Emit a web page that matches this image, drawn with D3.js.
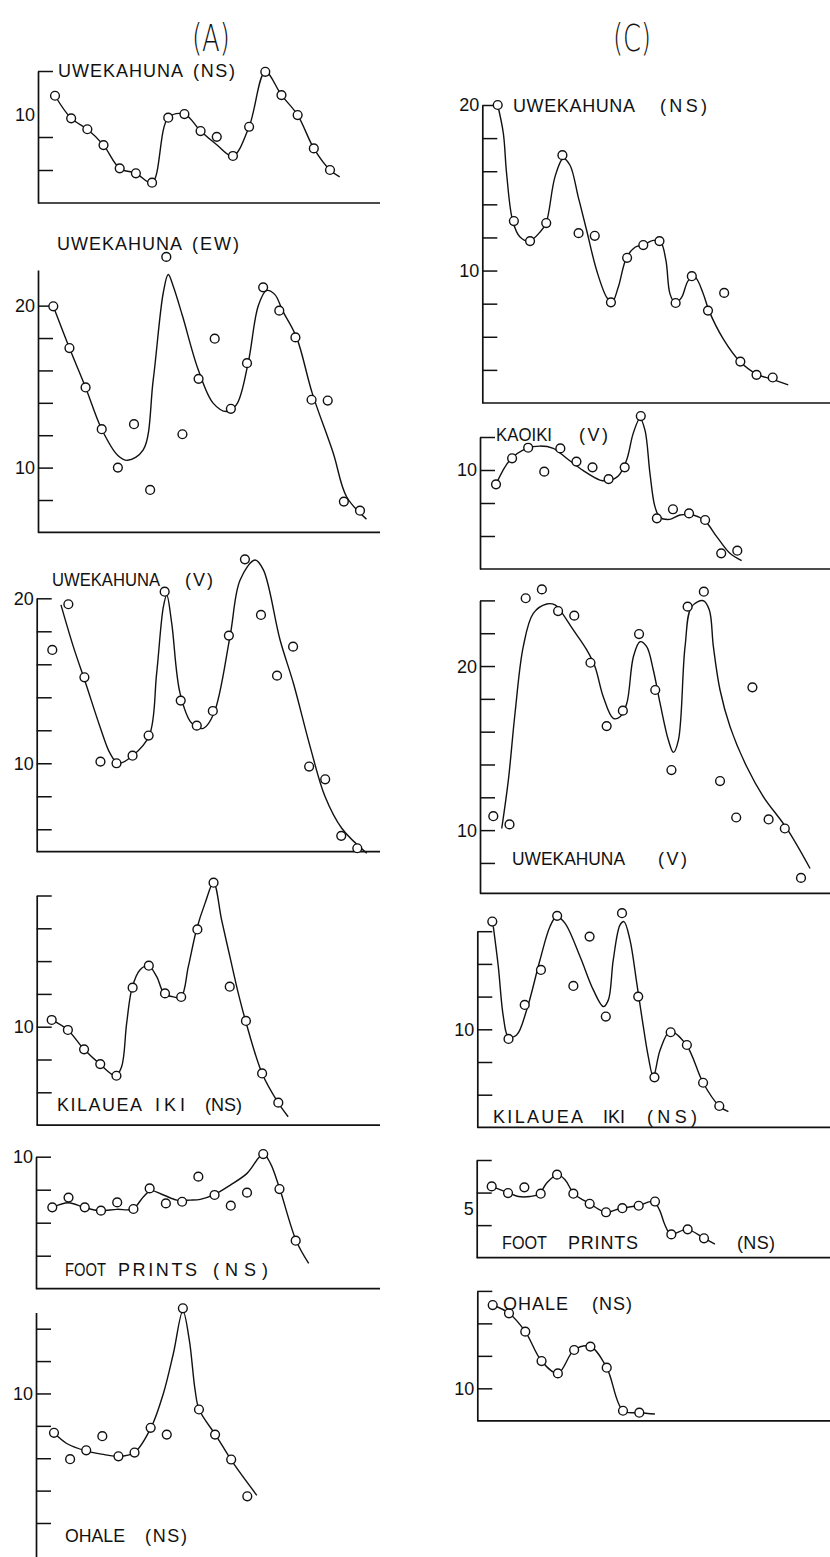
<!DOCTYPE html>
<html>
<head>
<meta charset="utf-8">
<script src="https://cdn.jsdelivr.net/npm/d3@7"></script>
<style>
  body { margin: 0; background: #fff; }
  svg { display: block; }
  text { font-family: "Liberation Sans", Arial, sans-serif; fill: #111; }
</style>
</head>
<body>
<div id="chart"></div>
<script>
/*
------------------------------
DATA: amplitude. values = circles (one per index),
fit = hand-drawn smooth curve as [index, value] knots
------------------------------
*/
const columnHeads = ["(A)", "(C)"];

// column A
const aUweNS = [10.5, 9.13, 8.47, 7.51, 6.1, 5.8, 5.23, 9.17, 9.39, 8.36, 8.01, 6.85, 8.62, 11.95, 10.54, 9.33, 7.31, 6.0];
const aUweNSFit = [[0,10.5],[1,9.13],[2,8.47],[3,7.51],[4,6.1],[5,5.8],[6,5.23],[7,9.17],[8,9.39],[9,8.36],[10,7.53],[11,6.85],[12,8.62],[13,11.95],[14,10.54],[15,9.33],[16,7.31],[17,6.0],[17.6,5.59]];

const aUweEW = [19.96, 17.38, 14.95, 12.37, 10.0, 12.68, 8.62, 23.01, 12.06, 15.48, 17.96, 13.63, 16.45, 21.13, 19.69, 18.04, 14.19, 14.14, 7.9, 7.34];
const aUweEWFit = [[0,19.96],[1,17.38],[2,14.95],[3,12.37],[4.0,10.75],[4.6,10.45],[5.57,11.09],[6.19,15.42],[6.81,20.78],[7.12,21.92],[7.43,21.2],[8.01,19.34],[8.98,16.04],[9.9,13.98],[10.74,13.46],[11.36,13.9],[12.07,16.45],[12.69,19.96],[13.2,20.93],[13.73,20.68],[14.2,19.69],[15.07,18.04],[16.04,14.6],[17.34,10.9],[18.17,8.2],[19.4,6.82]];

const aUweV = [16.87, 19.64, 15.21, 10.1, 10.0, 10.46, 11.68, 20.4, 13.8, 12.28, 13.17, 17.74, 22.36, 18.99, 15.31, 17.07, 9.8, 9.03, 5.6, 4.85];
const aUweVFit = [[0.54,19.6],[1.31,17.07],[2.08,14.85],[2.97,12.22],[3.6,10.6],[4.11,10.0],[5.01,10.46],[6.04,11.68],[6.5,15.45],[6.92,19.49],[7.13,20.2],[7.44,18.48],[7.96,14.24],[8.69,12.42],[9.41,12.12],[10.07,13.03],[11.07,17.68],[11.7,21.11],[12.63,22.32],[13.15,21.72],[14.19,17.47],[15.02,14.85],[16.06,11.01],[16.99,7.98],[18.03,6.06],[19.59,4.55]];

const aKilNS = [10.41, 9.8, 8.62, 7.72, 7.01, 12.38, 13.72, 12.03, 11.81, 15.93, 18.78, 12.44, 10.35, 7.15, 5.37];
const aKilNSFit = [[0,10.41],[0.99,9.8],[2.0,8.62],[2.98,7.72],[3.95,7.01],[4.32,7.56],[4.63,10.2],[4.97,12.38],[5.45,13.46],[5.97,13.72],[6.49,13.05],[6.94,12.03],[7.47,11.83],[7.99,11.81],[8.44,13.66],[8.95,15.93],[9.47,17.52],[10.0,18.78],[10.5,16.5],[11.01,14.27],[11.53,12.03],[11.98,10.35],[13.0,7.15],[13.99,5.37],[14.61,4.51]];

const aFootNS = [6.93, 7.52, 6.93, 6.73, 7.23, 6.83, 8.08, 7.17, 7.27, 8.79, 7.68, 7.03, 7.82, 10.16, 8.04, 4.91];
const aFootNSFit = [[0,6.93],[0.99,7.21],[1.96,6.93],[2.9,6.73],[3.98,6.81],[4.96,6.83],[5.62,7.58],[6.07,7.94],[6.85,7.68],[7.68,7.37],[8.5,7.37],[9.12,7.41],[9.94,7.68],[10.97,8.28],[12.0,8.99],[13.0,10.16],[13.44,9.6],[14.02,8.04],[15.03,4.91],[15.8,3.54]];

const aOhaNS = [7.57, 5.94, 6.49, 7.36, 6.12, 6.35, 7.88, 7.46, 15.26, 9.01, 7.46, 5.92, 3.65];
const aOhaNSFit = [[0,7.57],[0.79,6.91],[1.99,6.45],[2.96,6.25],[3.95,6.12],[4.99,6.35],[6.02,7.88],[6.79,10.0],[7.41,12.47],[8.0,15.1],[8.4,13.3],[8.76,10.2],[9.01,9.01],[10.11,7.32],[11.08,5.77],[12.59,3.71]];

// column C
const cUweNS = [20.0, 12.99, 11.78, 12.87, 16.97, 12.26, 12.1, 8.08, 10.77, 11.54, 11.78, 8.04, 9.66, 7.58, 8.65, 4.5, 3.7, 3.54];
const cUweNSFit = [[0,20],[0.35,18.28],[0.55,15.86],[0.93,12.99],[1.38,12.02],[1.95,11.78],[2.61,12.32],[2.99,12.87],[3.54,15.66],[4.05,16.77],[4.47,16.36],[4.98,14.44],[5.5,12.42],[6.12,10.0],[6.74,8.38],[7.07,8.08],[7.45,8.99],[7.96,10.77],[8.49,11.41],[8.97,11.54],[9.62,11.82],[10.07,11.72],[10.4,10.61],[10.65,8.59],[10.97,8.04],[11.37,8.38],[11.78,9.39],[12.19,9.6],[12.71,8.59],[13.06,7.58],[13.95,5.86],[14.98,4.5],[16.0,3.74],[16.98,3.43],[17.96,3.09]];

const cKaoV = [9.13, 10.71, 11.35, 9.9, 11.31, 10.51, 10.16, 9.45, 10.16, 13.27, 7.07, 7.62, 7.37, 6.97, 4.95, 5.11];
const cKaoVFit = [[0,9.13],[0.87,10.61],[1.91,11.31],[2.73,11.45],[3.56,11.31],[4.39,10.71],[5.43,9.96],[6.46,9.39],[6.92,9.35],[7.6,9.64],[8.12,10.61],[8.53,12.22],[8.95,13.13],[9.26,12.42],[9.57,9.8],[9.88,7.78],[10.19,7.13],[10.81,7.01],[11.44,7.27],[12.26,7.27],[12.97,6.93],[13.72,5.96],[14.54,4.95],[15.27,4.51]];

const cUweV = [10.85, 10.35, 24.13, 24.67, 23.35, 23.07, 20.2, 16.34, 17.28, 21.95, 18.54, 13.66, 23.62, 24.53, 12.99, 10.77, 18.7, 10.65, 10.1, 7.09];
const cUweVFit = [[0.52,10.1],[0.93,13.05],[1.34,17.11],[1.85,21.18],[2.47,23.21],[3.3,23.78],[3.81,23.72],[4.16,23.35],[4.94,22.2],[5.77,20.98],[6.28,19.96],[6.79,18.13],[7.41,16.81],[7.83,16.91],[8.24,17.72],[8.65,20.57],[9.06,21.48],[9.47,21.18],[9.88,19.76],[10.3,17.72],[10.81,15.49],[11.12,14.74],[11.43,15.49],[11.84,21.18],[12.25,23.62],[12.97,23.98],[13.34,23.41],[13.59,21.18],[14.0,18.54],[14.62,16.3],[15.65,13.86],[16.68,12.03],[18.12,10.1],[19.56,7.66]];

const cKilNS = [16.59, 9.41, 11.49, 13.63, 16.94, 12.65, 15.67, 10.78, 17.1, 12.0, 7.06, 9.82, 9.04, 6.73, 5.31];
const cKilNSFit = [[0.06,16.29],[0.37,13.84],[0.68,10.78],[0.99,9.55],[1.5,9.65],[2.12,11.18],[2.94,14.24],[3.56,16.29],[3.97,16.9],[4.48,16.49],[5.41,14.45],[6.23,12.41],[6.85,11.39],[7.16,11.8],[7.46,14.24],[7.88,16.39],[8.12,16.59],[8.49,15.47],[8.91,12.82],[9.22,10.78],[9.62,8.33],[9.93,7.1],[10.35,8.73],[10.96,9.86],[11.97,9.04],[13.0,6.73],[13.99,5.31],[14.56,4.96]];

const cFootNS = [6.38, 5.97, 6.32, 5.93, 7.1, 5.93, 5.31, 4.79, 5.04, 5.19, 5.45, 3.43, 3.74, 3.19];
const cFootNSFit = [[0,6.38],[1.06,5.97],[1.63,5.76],[2.35,5.76],[2.92,5.93],[3.37,6.59],[4.03,7.1],[4.49,6.79],[5.04,5.93],[6.02,5.31],[7.0,4.79],[7.9,5.04],[8.94,5.19],[9.9,5.45],[10.27,4.94],[10.61,4.01],[10.97,3.43],[11.95,3.74],[13.01,3.19],[13.67,2.84]];

const cOhaNS = [15.13, 14.62, 13.49, 11.68, 10.92, 12.36, 12.57, 11.27, 8.62, 8.5];
const cOhaNSFit = [[0,15.13],[1,14.62],[2,13.49],[3,11.68],[4,10.92],[5,12.36],[6,12.57],[7,11.27],[8,8.62],[9,8.5],[9.96,8.42]];

/*
------------------------------
LAYOUT: where each panel sits on the page
------------------------------
*/
const width = 830, height = 1557;

const panels = [
  { values: aUweNS, fit: aUweNSFit, axisX: 38, xs: [55, 330], yDomain: [4, 12], yRange: [203, 71],
    ticks: [6, 8, 12], labels: [10], labelDy: 11, xEnd: 380, base: 77,
    title: [["UWEKAHUNA", 58, 125], ["(NS)", 193, 42]] },
  { values: aUweEW, fit: aUweEWFit, axisX: 38, xs: [53.3, 360], yDomain: [6, 22.2], yRange: [532.4, 270],
    ticks: [8, 10, 12, 14, 16, 18, 20], labels: [10, 20], labelDy: 0, xEnd: 380, base: 250,
    title: [["UWEKAHUNA", 57, 125], ["(EW)", 192, 47]] },
  { values: aUweV, fit: aUweVFit, axisX: 36.7, xs: [52.3, 357.3], yDomain: [4.64, 20], yRange: [851.7, 598.3],
    ticks: [6, 8, 10, 12, 14, 16, 18, 20], labels: [10, 20], labelDy: 0, xEnd: 380, base: 586,
    title: [["UWEKAHUNA", 52, 108], ["(V)", 185, 28]] },
  { values: aKilNS, fit: aKilNSFit, axisX: 36.7, xs: [51.7, 278.3], yDomain: [4, 18], yRange: [1125.1, 895.5],
    ticks: [6, 8, 10, 12, 14, 16, 18], labels: [10], labelDy: 0, xEnd: 380, base: 1111,
    title: [["KILAUEA", 57, 85], ["IKI", 155, 30], ["(NS)", 205, 37]] },
  { values: aFootNS, fit: aFootNSFit, axisX: 36, xs: [52.3, 295.7], yDomain: [2, 10], yRange: [1288.7, 1156.7],
    ticks: [4, 6, 8, 10], labels: [10], labelDy: 0, xEnd: 380, base: 1276,
    title: [["FOOT", 65, 41], ["PRINTS", 118, 79], ["(NS)", 213, 55]] },
  { values: aOhaNS, fit: aOhaNSFit, axisX: 36, xs: [54, 247.3], yDomain: [-0.1, 15], yRange: [1557, 1312.5],
    ticks: [2, 4, 6, 8, 10, 12, 14], labels: [10], labelDy: 0, xEnd: null, base: 1542,
    title: [["OHALE", 65, 60], ["(NS)", 145, 42]] },

  { values: cUweNS, fit: cUweNSFit, axisX: 482.3, xs: [497.7, 772.7], yDomain: [2, 20], yRange: [403, 105],
    ticks: [4, 6, 8, 10, 12, 14, 16, 18, 20], labels: [10, 20], labelDy: 0, xEnd: 830, base: 112,
    title: [["UWEKAHUNA", 513, 122], ["(NS)", 660, 47]] },
  { values: cKaoV, fit: cKaoVFit, axisX: 480, xs: [496, 737.3], yDomain: [4, 12], yRange: [569, 437],
    ticks: [6, 8, 10, 12], labels: [10], labelDy: 0, xEnd: 830, base: 441,
    title: [["KAOIKI", 496, 56], ["(V)", 579, 29]] },
  { values: cUweV, fit: cUweVFit, axisX: 480, xs: [493.3, 801], yDomain: [6.15, 24], yRange: [893.3, 600.4],
    ticks: [8, 10, 12, 14, 16, 18, 20, 22, 24], labels: [10, 20], labelDy: 0, xEnd: 830, base: 865,
    title: [["UWEKAHUNA", 512, 113], ["(V)", 658, 29]] },
  { values: cKilNS, fit: cKilNSFit, axisX: 477.3, xs: [492.3, 719.3], yDomain: [4, 16], yRange: [1127.4, 931.2],
    ticks: [6, 8, 10, 12, 14, 16], labels: [10], labelDy: 0, xEnd: 830, base: 1123,
    title: [["KILAUEA", 493, 90], ["IKI", 603, 22], ["(NS)", 647, 50]] },
  { values: cFootNS, fit: cFootNSFit, axisX: 476.7, xs: [491.7, 704], yDomain: [2, 8], yRange: [1257.7, 1160],
    ticks: [4, 6, 8], labels: [5], labelDy: 0, xEnd: 830, base: 1249,
    title: [["FOOT", 502, 45], ["PRINTS", 568, 70], ["(NS)", 737, 38]] },
  { values: cOhaNS, fit: cOhaNSFit, axisX: 477.3, xs: [492.7, 639.3], yDomain: [8, 16], yRange: [1420.8, 1290.9],
    ticks: [10, 12, 14, 16], labels: [10], labelDy: 0, xEnd: 830, base: 1310,
    title: [["OHALE", 503, 65], ["(NS)", 592, 40]] }
];

const svg = d3.select("#chart").append("svg")
  .attr("width", width)
  .attr("height", height);

svg.append("rect").attr("width", width).attr("height", height).attr("fill", "#fff");

// column headings
svg.selectAll(".head")
  .data(columnHeads)
  .join("text")
  .attr("class", "head")
  .attr("x", (d, i) => i === 0 ? 192 : 613)
  .attr("y", 51)
  .attr("textLength", 38)
  .attr("lengthAdjust", "spacingAndGlyphs")
  .style("font-family", "'DejaVu Sans', sans-serif")
  .style("font-weight", 200)
  .style("font-size", "37px")
  .text(d => d);

/*
------------------------------
METHOD: draw one panel (axis, fitted curve, circles, title)
------------------------------
*/
function drawPanel(p) {
  const g = svg.append("g");
  const x = d3.scaleLinear().domain([0, p.values.length - 1]).range(p.xs);
  const y = d3.scaleLinear().domain(p.yDomain).range(p.yRange);

  // y axis: ticks point inward, no labels (labels drawn separately)
  const axis = d3.axisLeft(y)
    .tickValues(p.ticks)
    .tickSize(-15)
    .tickSizeOuter(0)
    .tickFormat("");
  const ax = g.append("g")
    .attr("transform", "translate(" + p.axisX + ",0)")
    .call(axis);
  ax.select(".domain").attr("stroke", "#111").attr("stroke-width", 1.7);
  ax.selectAll(".tick line").attr("stroke", "#111").attr("stroke-width", 1.5);

  g.selectAll(".ylab")
    .data(p.labels)
    .join("text")
    .attr("x", p.axisX - 3)
    .attr("y", d => y(d) + p.labelDy)
    .attr("dy", "0.36em")
    .attr("text-anchor", "end")
    .style("font-size", "18px")
    .text(d => d);

  // baseline
  if (p.xEnd) {
    g.append("line")
      .attr("x1", p.axisX).attr("x2", p.xEnd)
      .attr("y1", p.yRange[0]).attr("y2", p.yRange[0])
      .attr("stroke", "#111").attr("stroke-width", 1.7);
  }

  // fitted curve
  const line = d3.line()
    .x(d => x(d[0]))
    .y(d => y(d[1]))
    .curve(d3.curveCatmullRom.alpha(0.5));
  g.append("path")
    .datum(p.fit)
    .attr("d", line)
    .attr("fill", "none")
    .attr("stroke", "#111")
    .attr("stroke-width", 1.4);

  // observations
  g.selectAll("circle")
    .data(p.values)
    .join("circle")
    .attr("cx", (d, i) => x(i))
    .attr("cy", d => y(d))
    .attr("r", 4.4)
    .attr("fill", "#fff")
    .attr("stroke", "#111")
    .attr("stroke-width", 1.4);

  // station name: stretch with letter spacing, squeeze glyphs only if too wide
  g.selectAll(".title")
    .data(p.title)
    .join("text")
    .attr("x", d => d[1])
    .attr("y", p.base)
    .style("font-size", "18px")
    .text(d => d[0])
    .each(function (d) {
      const natural = this.getComputedTextLength();
      d3.select(this)
        .attr("textLength", d[2])
        .attr("lengthAdjust", natural > d[2] ? "spacingAndGlyphs" : "spacing");
    });
}

panels.forEach(drawPanel);
</script>
</body>
</html>
